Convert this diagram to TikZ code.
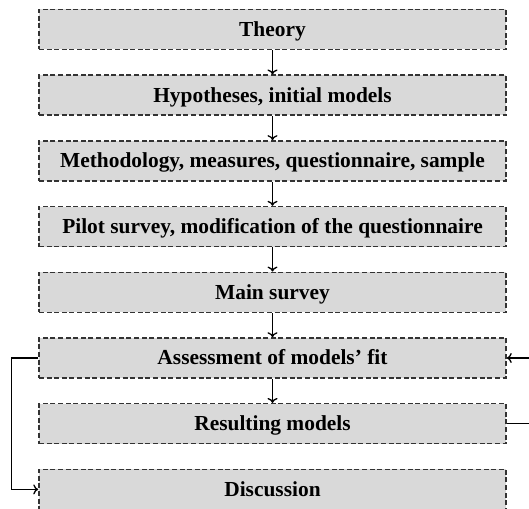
\documentclass[tikz,border=0pt]{standalone}
\usepackage{fontspec}
\setmainfont{Liberation Serif}
\usetikzlibrary{arrows.meta}
\definecolor{boxfill}{HTML}{D9D9D9}
\definecolor{boxline}{HTML}{333333}
\begin{document}
\begin{tikzpicture}[x=1pt,y=-1pt,
  stage/.style={draw=boxline, fill=boxfill, line width=1.5pt,
    dash pattern=on 5pt off 2.6pt, minimum width=467pt, minimum height=40pt,
    inner sep=0pt, text height=13.8pt, text depth=0pt,
    font=\fontsize{21.4}{24}\selectfont\bfseries},
  flow/.style={draw=black, line width=1.3pt, -{To[length=5pt,width=10pt]}}]
\useasboundingbox (0,0) rectangle (529,508);
\clip (0,0) rectangle (529,508);
\node[stage] (theory) at (272.5,29.5) {Theory};
\node[stage] (hyp)    at (272.5,95.2) {Hypotheses, initial models};
\node[stage] (meth)   at (272.5,160.9) {Methodology, measures, questionnaire, sample};
\node[stage] (pilot)  at (272.5,226.6) {Pilot survey, modification of the questionnaire};
\node[stage] (main)   at (272.5,292.3) {Main survey};
\node[stage] (assess) at (272.5,358) {Assessment of models’ fit};
\node[stage] (result) at (272.5,423.7) {Resulting models};
\node[stage] (disc)   at (272.5,489.4) {Discussion};
\draw[flow] (theory) -- (hyp);
\draw[flow] (hyp) -- (meth);
\draw[flow] (meth) -- (pilot);
\draw[flow] (pilot) -- (main);
\draw[flow] (main) -- (assess);
\draw[flow] (assess) -- (result);
\draw[flow] (assess.west) -- ++(-27,0) |- (disc.west);
\draw[flow] (result.east) -- ++(34,0) |- (assess.east);
\end{tikzpicture}
\end{document}
